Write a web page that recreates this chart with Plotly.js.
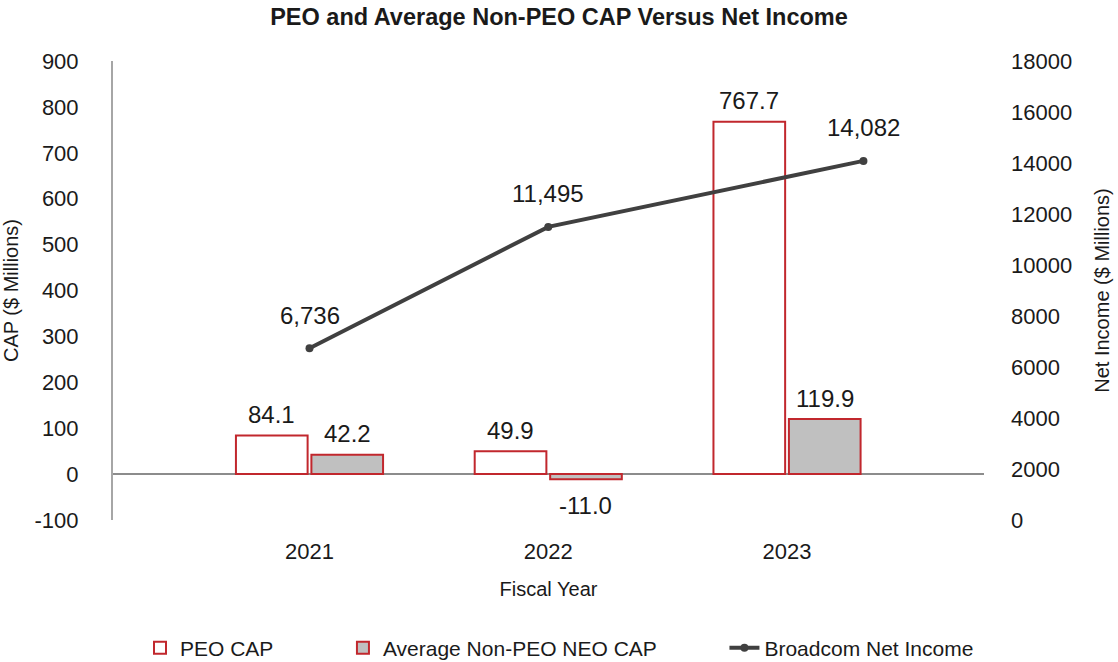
<!DOCTYPE html>
<html>
<head>
<meta charset="utf-8">
<script src="https://cdn.plot.ly/plotly-3.0.1.min.js"></script>
<style>
  html, body { margin: 0; padding: 0; background: #ffffff; }
  #chart { width: 1118px; height: 662px; }
</style>
</head>
<body>
<div id="chart"></div>
<script>
// ---- data ----
const years = ['2021', '2022', '2023'];
const peoCap = [84.1, 49.9, 767.7];
const neoCap = [42.2, -11.0, 119.9];
const netIncome = [6736, 11495, 14082];
const capTicks = [-100, 0, 100, 200, 300, 400, 500, 600, 700, 800, 900];
const capTickText = ['-100', '0', '100', '200', '300', '400', '500', '600', '700', '800', '900'];
const incomeTicks = [0, 2000, 4000, 6000, 8000, 10000, 12000, 14000, 16000, 18000];
const incomeTickText = ['0', '2000', '4000', '6000', '8000', '10000', '12000', '14000', '16000', '18000'];

// ---- layout constants ----
const RED = '#c1272d';
const GRAY_FILL = '#c0c0c0';
const LINE_COLOR = '#404040';
const TEXT = '#1a1a1a';
const FONT = 'Liberation Sans, Arial, sans-serif';
const BARGAP = 0.368;
const BARGROUPGAP = 0.05;
const SLOT = (1 - BARGAP) / 2;
// the line's markers in the source sit slightly right of the 2023 group centre
const LINE_SHIFT = [0, 0, 0.32];

const idx = years.map((_, i) => i);
const lineX = idx.map((i, k) => i + LINE_SHIFT[k]);

const traces = [
  {
    type: 'bar', name: 'PEO CAP', x: idx, y: peoCap,
    marker: { color: '#ffffff', line: { color: RED, width: 2 } },
    legend: 'legend', hoverinfo: 'y'
  },
  {
    type: 'bar', name: 'Average Non-PEO NEO CAP', x: idx, y: neoCap,
    marker: { color: GRAY_FILL, line: { color: RED, width: 2 } },
    legend: 'legend2', hoverinfo: 'y'
  },
  {
    type: 'scatter', mode: 'lines+markers', name: 'Broadcom Net Income',
    x: lineX, y: netIncome, yaxis: 'y2',
    line: { color: LINE_COLOR, width: 4 },
    marker: { color: LINE_COLOR, size: 8 },
    legend: 'legend3', hoverinfo: 'y'
  }
];

const annFont = { family: FONT, size: 24, color: TEXT };
const annotations = [];
peoCap.forEach((v, i) => annotations.push({
  x: i - SLOT / 2, y: v, xref: 'x', yref: 'y', text: v.toFixed(1),
  showarrow: false, font: annFont, yshift: v >= 0 ? 21 : -26
}));
neoCap.forEach((v, i) => annotations.push({
  x: i + SLOT / 2, y: v, xref: 'x', yref: 'y', text: v.toFixed(1),
  showarrow: false, font: annFont, yshift: v >= 0 ? 21 : -26
}));
netIncome.forEach((v, i) => annotations.push({
  x: lineX[i], y: v, xref: 'x', yref: 'y2', text: v.toLocaleString('en-US'),
  showarrow: false, font: annFont, yshift: 33
}));

const legendCommon = {
  orientation: 'h', yanchor: 'middle', y: -0.279, xanchor: 'left',
  font: { family: FONT, size: 21, color: TEXT }, bgcolor: 'rgba(0,0,0,0)'
};

const tickFont = { family: FONT, size: 22, color: TEXT };
const axTitleFont = { family: FONT, size: 20, color: TEXT };

const layout = {
  width: 1118, height: 662,
  margin: { l: 113, r: 134, t: 61, b: 142, autoexpand: false },
  paper_bgcolor: '#ffffff', plot_bgcolor: '#ffffff',
  font: { family: FONT, color: TEXT },
  title: {
    text: '<b>PEO and Average Non-PEO CAP Versus Net Income</b>',
    font: { family: FONT, size: 23.5, color: TEXT },
    x: 0.5, xanchor: 'center', y: 0.974, yanchor: 'middle'
  },
  barmode: 'group', bargap: BARGAP, bargroupgap: BARGROUPGAP,
  xaxis: {
    range: [-0.823, 2.825], tickvals: idx, ticktext: years,
    showgrid: false, zeroline: false, showline: false, ticks: '',
    tickfont: tickFont, ticklabelstandoff: 16,
    title: { text: 'Fiscal Year', font: axTitleFont, standoff: 18 },
    fixedrange: true
  },
  yaxis: {
    range: [-100, 900], tickvals: capTicks, ticktext: capTickText,
    showgrid: false, showline: true, linecolor: '#a6a6a6', linewidth: 2,
    zeroline: true, zerolinecolor: '#8c8c8c', zerolinewidth: 2, ticks: '',
    tickfont: tickFont, ticklabelstandoff: 28,
    title: { text: 'CAP ($ Millions)', font: axTitleFont, standoff: 18 },
    fixedrange: true
  },
  yaxis2: {
    overlaying: 'y', side: 'right', range: [0, 18000], tickvals: incomeTicks, ticktext: incomeTickText,
    showgrid: false, showline: false, zeroline: false, ticks: '',
    tickfont: tickFont, ticklabelstandoff: 26,
    title: { text: 'Net Income ($ Millions)', font: axTitleFont, standoff: 23 },
    fixedrange: true
  },
  legend: Object.assign({}, legendCommon, { x: 0.031 }),
  legend2: Object.assign({}, legendCommon, { x: 0.264 }),
  legend3: Object.assign({}, legendCommon, { x: 0.702 }),
  annotations: annotations,
  showlegend: true
};

Plotly.newPlot('chart', traces, layout, { displayModeBar: false, responsive: false });
</script>
</body>
</html>
